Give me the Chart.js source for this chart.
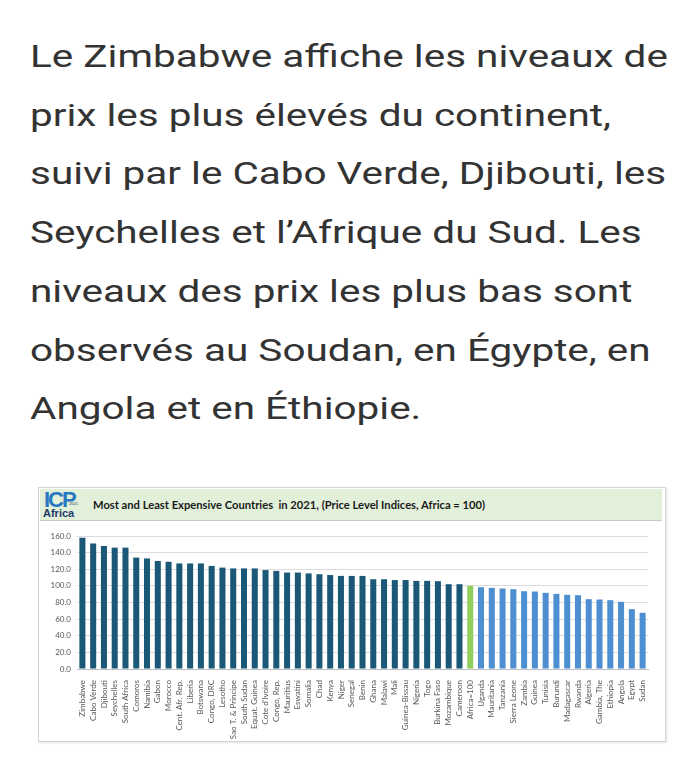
<!DOCTYPE html>
<html>
<head>
<meta charset="utf-8">
<script src="https://cdn.jsdelivr.net/npm/chart.js"></script>
<style>
  html, body { margin: 0; padding: 0; background: #fff; }
  body { width: 700px; height: 774px; position: relative; overflow: hidden; }
  #intro {
    position: absolute; left: 30px; top: 27px;
    font-family: Roboto, sans-serif; font-size: 32px; line-height: 58.7px;
    color: #333; white-space: nowrap;
    transform: scaleX(1.265); transform-origin: 0 0;
  }
  #box {
    position: absolute; left: 38px; top: 487px; width: 626px; height: 253px;
    border: 1px solid #d4d4d4; background: #fff;
    box-shadow: 1px 1px 2px rgba(0,0,0,0.12);
  }
  #band {
    position: absolute; left: 1px; top: 1px; width: 622px; height: 31px;
    background: #e2efd9; border-bottom: 1px solid #c9c9c9;
  }
  #logo { position: absolute; left: 3px; top: 1px; width: 32px; height: 30px; font-family: "Liberation Sans", Arial, sans-serif; }
  #logo .icp { position: absolute; left: 1px; top: -3px; font-size: 22px; font-weight: bold; color: #2a78c2; letter-spacing: -2px; }
  #logo .yr { position: absolute; left: 26px; top: 11px; font-size: 4px; color: #1c3d6b; }
  #logo .af { position: absolute; left: 0px; top: 17px; font-size: 11px; font-weight: bold; color: #1c3d6b; }
  #title {
    position: absolute; left: 53px; top: 9px;
    font-family: Lato, sans-serif; font-weight: bold; font-size: 11.2px; color: #1a1a1a;
  }
  #wrap { position: absolute; left: 40px; top: 522px; width: 622px; height: 218px; }
</style>
</head>
<body>
<div id="intro">Le Zimbabwe affiche les niveaux de<br>prix les plus élevés du continent,<br>suivi par le Cabo Verde, Djibouti, les<br>Seychelles et l’Afrique du Sud. Les<br>niveaux des prix les plus bas sont<br>observés au Soudan, en Égypte, en<br>Angola et en Éthiopie.</div>

<div id="box">
  <div id="band">
    <div id="logo"><span class="icp">ICP</span><span class="yr">2021</span><span class="af">Africa</span></div>
    <div id="title">Most and Least Expensive Countries&nbsp; in 2021, (Price Level Indices, Africa = 100)</div>
  </div>
</div>
<div id="wrap"><canvas id="myChart" width="622" height="218"></canvas></div>

<script>
// Countries, from most to least expensive
var countries = ['Zimbabwe', 'Cabo Verde', 'Djibouti', 'Seychelles', 'South Africa', 'Comoros', 'Namibia',
    'Gabon', 'Morocco', 'Cent. Afr. Rep.', 'Liberia', 'Botswana', 'Congo, DRC', 'Lesotho',
    'Sao T. & Principe', 'South Sudan', 'Equat. Guinea', "Cote d'Ivoire", 'Congo, Rep.', 'Mauritius',
    'Eswatini', 'Somalia', 'Chad', 'Kenya', 'Niger', 'Senegal', 'Benin', 'Ghana', 'Malawi', 'Mali',
    'Guinea-Bissau', 'Nigeria', 'Togo', 'Burkina Faso', 'Mozambique', 'Cameroon', 'Africa=100',
    'Uganda', 'Mauritania', 'Tanzania', 'Sierra Leone', 'Zambia', 'Guinea', 'Tunisia', 'Burundi',
    'Madagascar', 'Rwanda', 'Algeria', 'Gambia, The', 'Ethiopia', 'Angola', 'Egypt', 'Sudan'];

// Price level index (Africa = 100)
var priceLevels = [158, 151, 148, 146, 146, 134, 133,
    130, 129, 127, 127, 127, 124, 122,
    121, 121, 121, 119, 118, 116,
    116, 115, 114, 113, 112, 112, 112, 108, 108, 107,
    107, 106, 106, 105.6, 102, 102, 100,
    98.4, 97.6, 96.8, 96, 93.6, 93.2, 91.6, 90.4,
    89.2, 88.8, 84, 83.6, 82.8, 80.8, 72, 67.6];

var yTicks = [0, 20, 40, 60, 80, 100, 120, 140, 160];

var refIndex = countries.indexOf('Africa=100');
var barColors = countries.map(function (c, i) {
    if (i < refIndex) return '#1b5878';
    if (i === refIndex) return '#8fcf5e';
    return '#4d8fd1';
});

var ctx = document.getElementById('myChart').getContext('2d');
var myChart = new Chart(ctx, {
    type: 'bar',
    data: {
        labels: countries,
        datasets: [{
            data: priceLevels,
            backgroundColor: barColors,
            borderWidth: 0,
            barPercentage: 0.56,
            categoryPercentage: 1
        }]
    },
    options: {
        responsive: false,
        animation: false,
        layout: { padding: { top: 14, right: 14, left: 0, bottom: 0 } },
        plugins: {
            legend: { display: false },
            tooltip: { enabled: false }
        },
        scales: {
            x: {
                grid: { display: false },
                border: { color: '#bfbfbf' },
                ticks: {
                    autoSkip: false,
                    maxRotation: 90,
                    minRotation: 90,
                    padding: 3,
                    color: '#595959',
                    font: { family: 'Lato', size: 8 }
                },
                afterFit: function (scale) { scale.height = 71; }
            },
            y: {
                min: 0,
                max: 160,
                afterBuildTicks: function (scale) {
                    scale.ticks = yTicks.map(function (v) { return { value: v }; });
                },
                grid: { color: '#dcdcdc', drawTicks: false },
                border: { display: false },
                ticks: {
                    padding: 6,
                    color: '#595959',
                    font: { family: 'Lato', size: 8 },
                    callback: function (v) { return Number(v).toFixed(1); }
                },
                afterFit: function (scale) { scale.width = 37; }
            }
        }
    }
});
</script>
</body>
</html>
